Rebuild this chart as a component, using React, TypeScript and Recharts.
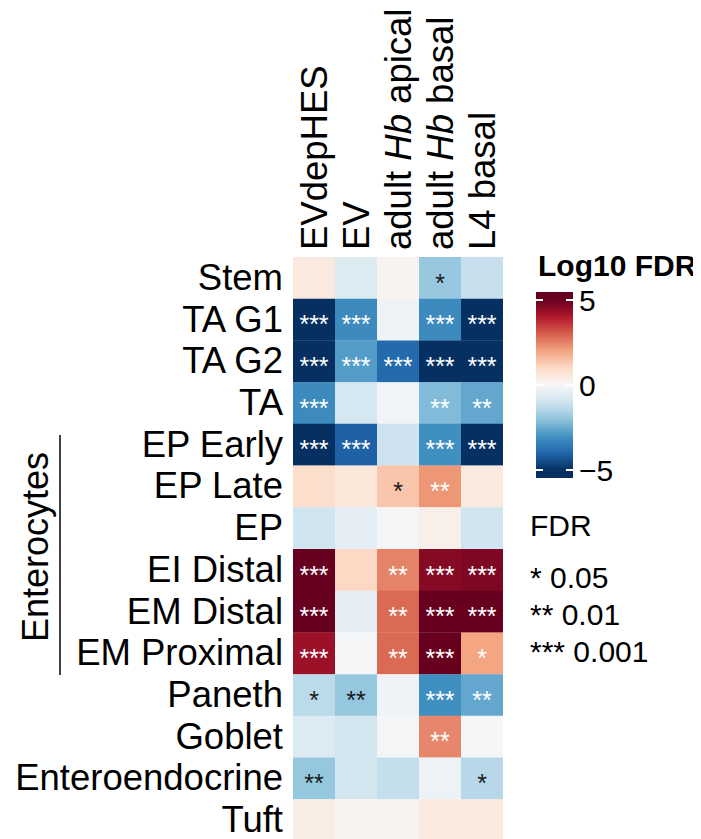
import React from 'react'
import { BarChart, Bar, XAxis, YAxis, Cell, LabelList } from 'recharts'

// rows (cell types) and columns (samples)
const cellTypes = ['Stem', 'TA G1', 'TA G2', 'TA', 'EP Early', 'EP Late', 'EP', 'EI Distal', 'EM Distal', 'EM Proximal', 'Paneth', 'Goblet', 'Enteroendocrine', 'Tuft']
const samples = ['EVdepHES', 'EV', 'adult Hb apical', 'adult Hb basal', 'L4 basal']

// signed log10 FDR per sample, one entry per cell type
const evdepHES = [0.5, -5, -5, -3.2, -5, 0.9, -1.0, 5, 5, 4.3, -1.35, -0.7, -1.95, 0.4]
const ev = [-0.7, -3.2, -2.8, -0.9, -4.1, 0.6, -0.5, 1.05, -0.5, -0.05, -1.95, -0.95, -0.95, 0.15]
const hbApical = [0.15, -0.25, -3.9, -0.15, -1.05, 1.4, -0.1, 2.5, 2.85, 2.85, -0.2, -0.1, -1.2, 0.15]
const hbBasal = [-1.9, -3.2, -5, -2.2, -3.1, 2.2, 0.3, 4.6, 5, 5, -3.1, 2.45, -0.3, 0.5]
const l4Basal = [-1.15, -5, -5, -2.6, -5, 0.5, -1.0, 4.7, 5, 2.0, -2.6, -0.05, -1.4, 0.5]

// significance stars
const sigEvdepHES = ['', '***', '***', '***', '***', '', '', '***', '***', '***', '*', '', '**', '']
const sigEv = ['', '***', '***', '', '***', '', '', '', '', '', '**', '', '', '']
const sigHbApical = ['', '', '***', '', '', '*', '', '**', '**', '**', '', '', '', '']
const sigHbBasal = ['*', '***', '***', '**', '***', '**', '', '***', '***', '***', '***', '**', '', '']
const sigL4Basal = ['', '***', '***', '**', '***', '', '', '***', '***', '*', '**', '', '*', '']

const colorTicks = [5, 0, -5]
const fdrLevels = ['* 0.05', '** 0.01', '*** 0.001']

const values = [evdepHES, ev, hbApical, hbBasal, l4Basal]
const stars = [sigEvdepHES, sigEv, sigHbApical, sigHbBasal, sigL4Basal]

const RDBU = ['#053061', '#2166ac', '#4393c3', '#92c5de', '#d1e5f0', '#f7f7f7', '#fddbc7', '#f4a582', '#d6604d', '#b2182b', '#67001f']

function hex(c: string) {
  return [1, 3, 5].map(i => parseInt(c.slice(i, i + 2), 16))
}

function rdbu(v: number) {
  const t = Math.max(-5, Math.min(5, v)) + 5
  const i = Math.min(9, Math.floor(t))
  const f = t - i
  const a = hex(RDBU[i]), b = hex(RDBU[i + 1])
  const c = a.map((x, k) => Math.round(x + (b[k] - x) * f))
  return `rgb(${c[0]},${c[1]},${c[2]})`
}

const FONT = '"Liberation Sans", Arial, Helvetica, sans-serif'

const data = cellTypes.map(name => {
  const row: any = { name }
  samples.forEach((_, c) => { row[`c${c}`] = 1 })
  return row
})

const W = 693
const H = 833
const PLOT_LEFT = 285
const PLOT_TOP = 249
const PLOT_RIGHT = 495

function ColumnTick(props: any) {
  const { x, y, payload } = props
  const label = samples[Math.floor(payload.value)]
  const parts = label.split(/(Hb)/)
  return (
    <text transform={`translate(${x + 13},${y}) rotate(-90)`} textAnchor="start" fontSize={36.5} fill="#000" fontFamily={FONT}>
      {parts.map((p, i) => (
        <tspan key={i} fontStyle={p === 'Hb' ? 'italic' : 'normal'}>{p}</tspan>
      ))}
    </text>
  )
}

function RowTick(props: any) {
  const { x, y, payload } = props
  return (
    <text x={x} y={y} dy={12} textAnchor="end" fontSize={36.5} fill="#000" fontFamily={FONT}>
      {payload.value}
    </text>
  )
}

function starLabel(col: number) {
  return (props: any) => {
    const { x, y, width, height, index } = props
    const s = stars[col][index]
    if (!s) return null
    const v = values[col][index]
    const fill = v > 1.8 || v < -2.1 ? '#ffffff' : '#1a1a1a'
    return (
      <text x={x + width / 2} y={y + height / 2 + 13.5} textAnchor="middle" fontSize={25} fill={fill} fontFamily={FONT}>
        {s}
      </text>
    )
  }
}

function Legend() {
  const barX = 528, barW = 37, barTop = 284, barBottom = 470
  const y0 = 377, perUnit = 17
  const stops: number[] = []
  for (let k = 0; k <= 40; k++) stops.push(k / 40)
  const vTop = (y0 - barTop) / perUnit
  const vBot = (y0 - barBottom) / perUnit
  return (
    <svg width={W} height={H} style={{ position: 'absolute', left: 0, top: 0, pointerEvents: 'none' }}>
      <defs>
        <linearGradient id="rdbuBar" x1="0" y1="0" x2="0" y2="1">
          {stops.map(s => (
            <stop key={s} offset={s} stopColor={rdbu(vTop + (vBot - vTop) * s)} />
          ))}
        </linearGradient>
      </defs>
      <text x={530} y={268} fontSize={30} fontWeight="bold" fontFamily={FONT} fill="#000">Log10 FDR</text>
      <rect x={barX} y={barTop} width={barW} height={barBottom - barTop} fill="url(#rdbuBar)" />
      {colorTicks.map(t => {
        const ty = y0 - t * perUnit
        return (
          <g key={t}>
            <line x1={barX} x2={barX + 7} y1={ty} y2={ty} stroke="#fff" strokeWidth={2} />
            <line x1={barX + barW - 7} x2={barX + barW} y1={ty} y2={ty} stroke="#fff" strokeWidth={2} />
            <text x={571} y={ty + 11} fontSize={30} fontFamily={FONT} fill="#000">{t < 0 ? `\u2212${-t}` : t}</text>
          </g>
        )
      })}
      <text x={522} y={528} fontSize={30} fontFamily={FONT} fill="#000">FDR</text>
      {fdrLevels.map((l, i) => (
        <text key={l} x={522} y={580 + i * 37} fontSize={30} fontFamily={FONT} fill="#000">{l}</text>
      ))}
      <text transform="translate(40,539) rotate(-90)" textAnchor="middle" fontSize={36} fontFamily={FONT} fill="#000">Enterocytes</text>
      <line x1={52} x2={52} y1={427} y2={667} stroke="#000" strokeWidth={1.5} />
    </svg>
  )
}

export default function App() {
  return (
    <div style={{ position: 'relative', width: W, height: H }}>
      <style>{'body{overflow:hidden}'}</style>
      <BarChart
        width={W}
        height={H}
        data={data}
        layout="vertical"
        barCategoryGap={0}
        margin={{ top: 0, left: 0, right: W - PLOT_RIGHT, bottom: 0 }}
      >
        <XAxis
          type="number"
          orientation="top"
          domain={[0, 5]}
          ticks={[0.5, 1.5, 2.5, 3.5, 4.5]}
          height={PLOT_TOP}
          axisLine={false}
          tickLine={false}
          tickSize={0}
          tickMargin={7}
          interval={0}
          tick={<ColumnTick />}
        />
        <YAxis
          type="category"
          dataKey="name"
          width={PLOT_LEFT}
          axisLine={false}
          tickLine={false}
          tickSize={0}
          tickMargin={10}
          interval={0}
          tick={<RowTick />}
        />
        {samples.map((s, c) => (
          <Bar key={s} dataKey={`c${c}`} stackId="a" isAnimationActive={false}>
            {data.map((_, r) => (
              <Cell key={r} fill={rdbu(values[c][r])} />
            ))}
            <LabelList dataKey={`c${c}`} content={starLabel(c)} />
          </Bar>
        ))}
      </BarChart>
      <Legend />
    </div>
  )
}
